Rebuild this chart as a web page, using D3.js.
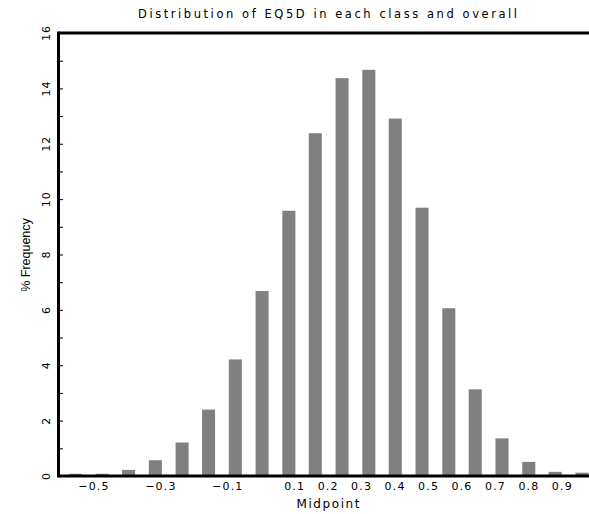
<!DOCTYPE html>
<html>
<head>
<meta charset="utf-8">
<script src="https://cdn.jsdelivr.net/npm/d3@7"></script>
<style>
  html, body { margin: 0; padding: 0; background: #fff; }
  svg { display: block; }
</style>
</head>
<body>
<svg id="chart" width="589" height="514"></svg>
<script>
// ---- data ----
const midpoints = [-0.554, -0.474, -0.395, -0.315, -0.235, -0.156, -0.076, 0.004, 0.084, 0.163,
                   0.243, 0.323, 0.402, 0.482, 0.562, 0.641, 0.721, 0.801, 0.880, 0.960];
const frequency = [0.08, 0.08, 0.22, 0.57, 1.21, 2.40, 4.21, 6.68, 9.58, 12.38,
                   14.37, 14.67, 12.91, 9.69, 6.06, 3.13, 1.36, 0.51, 0.15, 0.12];
const xTickValues = [-0.5, -0.3, -0.1, 0.1, 0.2, 0.3, 0.4, 0.5, 0.6, 0.7, 0.8, 0.9];
const yTickValues = [0, 2, 4, 6, 8, 10, 12, 14, 16];
const yMinorTicks = [1, 3, 5, 7, 9, 11, 13, 15];
const titleText = "Distribution of EQ5D in each class and overall";
const xLabel = "Midpoint";
const yLabel = "% Frequency";

// ---- layout ----
const M = { left: 59, right: 589, top: 33, bottom: 476 };
const svg = d3.select("#chart");

const x = d3.scaleLinear().domain([-0.603, 0.981]).range([M.left, M.right]);
const y = d3.scaleLinear().domain([0, 16]).range([M.bottom, M.top]);
const halfBar = 0.0195;

// bars
svg.append("g").selectAll("rect")
  .data(midpoints.map((m, i) => ({ m, v: frequency[i] })))
  .join("rect")
  .attr("x", d => x(d.m - halfBar))
  .attr("width", d => x(d.m + halfBar) - x(d.m - halfBar))
  .attr("y", d => y(d.v))
  .attr("height", d => y(0) - y(d.v))
  .attr("fill", "#808080");

// y axis ticks (pointing inside)
const yAxis = d3.axisRight(y)
  .tickValues(yTickValues.concat(yMinorTicks))
  .tickSize(4)
  .tickFormat("");
const gy = svg.append("g").attr("transform", `translate(${M.left},0)`).call(yAxis);
gy.select(".domain").remove();
gy.selectAll(".tick line").attr("stroke", "#000").attr("stroke-width", 1);

// y tick labels, rotated
svg.append("g").selectAll("text")
  .data(yTickValues)
  .join("text")
  .attr("transform", d => `translate(50,${y(d)}) rotate(-90)`)
  .attr("text-anchor", "middle")
  .attr("font-family", "DejaVu Sans, sans-serif")
  .attr("font-size", 11)
  .attr("letter-spacing", 1)
  .attr("fill", "#000")
  .text(d => d3.format("d")(d));

// x axis labels
const xAxis = d3.axisBottom(x)
  .tickValues(xTickValues)
  .tickSize(0)
  .tickPadding(0)
  .tickFormat(d3.format(".1f"));
const gx = svg.append("g").attr("transform", `translate(0,${M.bottom})`).call(xAxis);
gx.select(".domain").remove();
gx.selectAll(".tick text")
  .attr("y", 14)
  .attr("dy", 0)
  .attr("font-family", "DejaVu Sans, sans-serif")
  .attr("font-size", 11)
  .attr("letter-spacing", 1.2)
  .attr("fill", "#000");

// frame lines
svg.append("line").attr("x1", M.left).attr("x2", M.right).attr("y1", M.top).attr("y2", M.top)
  .attr("stroke", "#000").attr("stroke-width", 3);
svg.append("line").attr("x1", M.left).attr("x2", M.right).attr("y1", M.bottom).attr("y2", M.bottom)
  .attr("stroke", "#000").attr("stroke-width", 3);
svg.append("line").attr("x1", M.left - 0.5).attr("x2", M.left - 0.5).attr("y1", M.top - 1.5).attr("y2", M.bottom + 1.5)
  .attr("stroke", "#000").attr("stroke-width", 3);

// title
svg.append("text")
  .attr("x", 327.5).attr("y", 18)
  .attr("text-anchor", "middle")
  .attr("font-family", "DejaVu Sans, sans-serif")
  .attr("font-size", 11.5)
  .attr("textLength", 379)
  .attr("lengthAdjust", "spacing")
  .attr("fill", "#000")
  .text(titleText);

// x label
svg.append("text")
  .attr("x", 328).attr("y", 508)
  .attr("text-anchor", "middle")
  .attr("font-family", "DejaVu Sans, sans-serif")
  .attr("font-size", 12)
  .attr("textLength", 63)
  .attr("lengthAdjust", "spacing")
  .attr("fill", "#000")
  .text(xLabel);

// y label
svg.append("text")
  .attr("transform", "translate(30,255) rotate(-90)")
  .attr("text-anchor", "middle")
  .attr("font-family", "Liberation Sans, Arial, sans-serif")
  .attr("font-size", 12.5)
  .attr("fill", "#000")
  .text(yLabel);
</script>
</body>
</html>
